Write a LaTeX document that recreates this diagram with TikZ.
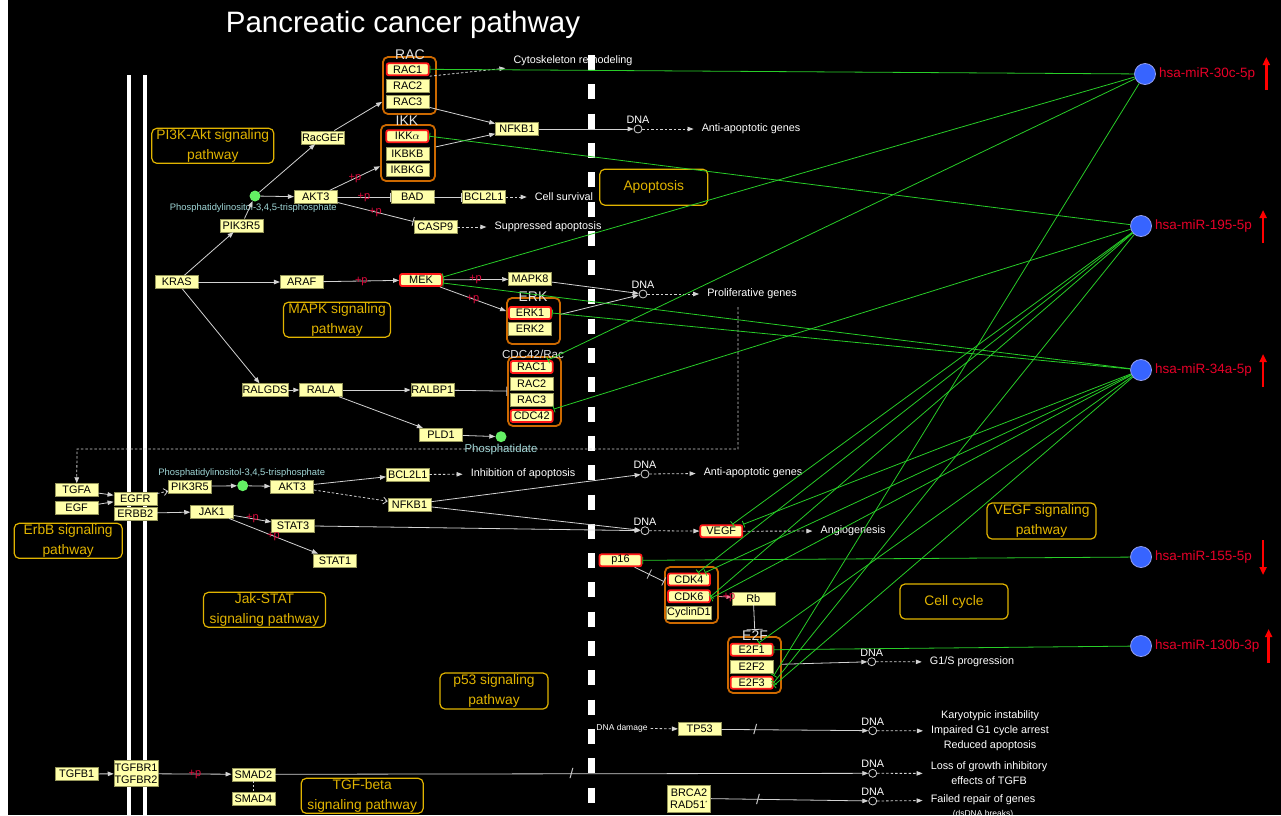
\documentclass[tikz,border=0pt]{standalone}
\usepackage{fontspec}
\setmainfont{Liberation Sans}
\usetikzlibrary{arrows.meta,positioning}

\definecolor{genefill}{RGB}{255,255,170}
\definecolor{geneline}{RGB}{150,150,90}
\definecolor{hitred}{RGB}{255,25,25}
\definecolor{cplxorange}{RGB}{205,105,0}
\definecolor{pwgold}{RGB}{225,180,0}
\definecolor{edgegray}{RGB}{210,210,210}
\definecolor{mirgreen}{RGB}{40,205,40}
\definecolor{cpdgreen}{RGB}{100,240,100}
\definecolor{cpdtext}{RGB}{160,215,215}
\definecolor{plusred}{RGB}{220,10,60}
\definecolor{mirblue}{RGB}{55,100,255}
\definecolor{mirring}{RGB}{150,160,240}
\definecolor{mirred}{RGB}{230,0,40}
\definecolor{cplxtext}{RGB}{225,225,225}

\newcommand{\genefont}{\fontsize{10.9}{11}\selectfont}
\newcommand{\notefont}{\fontsize{10.8}{15}\selectfont}
\newcommand{\pwfont}{\fontsize{13.8}{19.5}\selectfont}

\begin{document}
\begin{tikzpicture}[x=1pt, y=-1pt,
    gene/.style={draw=geneline, fill=genefill, line width=0.5pt, minimum width=43, minimum height=13, inner sep=0.5pt, font=\genefont},
    hit/.style={gene, draw=hitred, line width=1.8pt, rounded corners=2pt, minimum width=42, minimum height=12},
    cplx/.style={draw=cplxorange, line width=1.8pt, rounded corners=5pt, inner sep=0pt},
    cplxlab/.style={text=cplxtext, font=\fontsize{14}{14}\selectfont, inner sep=1pt},
    pw/.style={draw=pwgold, text=pwgold, line width=1.2pt, rounded corners=5pt, align=center, font=\pwfont, inner sep=0pt},
    note/.style={text=white, font=\notefont, inner sep=8pt, align=center},
    dna/.style={circle, draw=edgegray, fill=black, line width=0.8pt, minimum size=8, inner sep=0pt,
      label={[text=white, font=\notefont, inner sep=1pt]above:DNA}},
    cpd/.style={circle, fill=cpdgreen, minimum size=11, inner sep=0pt},
    cpdlab/.style={text=cpdtext, font=\fontsize{9.4}{10}\selectfont, inner sep=1pt},
    act/.style={draw=edgegray, line width=0.8pt, -{Triangle[length=6pt, width=4.5pt]}},
    inh/.style={draw=edgegray, line width=0.8pt, -{Bar[width=9pt, line width=0.8pt]}},
    ind/.style={act, dash pattern=on 2.5pt off 2pt},
    indopen/.style={draw=edgegray, line width=0.8pt, dash pattern=on 2.5pt off 2pt, -{Straight Barb[length=4pt, width=7pt]}},
    pact/.style={draw=plusred!55!white, line width=0.8pt, -{Triangle[length=5pt, width=4pt]}},
    plusp/.style={text=plusred, font=\fontsize{11}{10}\selectfont, inner sep=0pt},
    slashmark/.style={text=edgegray, font=\fontsize{14}{14}\selectfont, inner sep=0pt},
    mir/.style={circle, fill=mirblue, draw=mirring, line width=0.8pt, minimum size=21, inner sep=0pt},
    mirlab/.style={text=mirred, font=\fontsize{13.5}{14}\selectfont, inner sep=1pt},
    mline/.style={draw=mirgreen, line width=0.8pt, -{Bar[width=7pt, line width=0.8pt]}},
    regarrow/.style={draw=red, line width=2.4pt, -{Triangle[length=8pt, width=7pt]}}]

  \useasboundingbox (0,0) rectangle (1281,815);

  % Background
  \fill[white] (0,0) rectangle (1281,815);
  \fill[black] (8,0) rectangle (1281,815);

  % Cell membrane and nuclear border
  \draw[white, line width=4pt] (129,75) -- (129,815);
  \draw[white, line width=4pt] (145,75) -- (145,815);
  \draw[white, line width=7pt, dash pattern=on 15pt off 14.3pt] (591,55) -- (591,815);

  % Title
  \node[text=white, font=\fontsize{29.5}{30}\selectfont] (title) at (403,25) {Pancreatic cancer pathway};

  % Pathway boxes
  \node[pw, minimum width=122, minimum height=35] (pwpi3k) at (212.8,145.8) {PI3K-Akt signaling\\pathway};
  \node[pw, minimum width=107, minimum height=35] (pwmapk) at (337,319.7) {MAPK signaling\\pathway};
  \node[pw, minimum width=108, minimum height=36] (pwapop) at (653.8,187.2) {Apoptosis};
  \node[pw, minimum width=108, minimum height=35] (pwerbb) at (68.2,540.8) {ErbB signaling\\pathway};
  \node[pw, minimum width=122, minimum height=35] (pwjak) at (264.5,609.8) {Jak-STAT\\signaling pathway};
  \node[pw, minimum width=122, minimum height=35] (pwtgf) at (362.2,795.8) {TGF-beta\\signaling pathway};
  \node[pw, minimum width=109, minimum height=36] (pwvegf) at (1041.5,521) {VEGF signaling\\pathway};
  \node[pw, minimum width=108, minimum height=35] (pwcc) at (954,601.5) {Cell cycle};
  \node[pw, minimum width=108, minimum height=36] (pwp53) at (494,691) {p53 signaling\\pathway};

  % Complexes
  \node[cplx, minimum width=53, minimum height=57] (rac) at (409.5,85.5) {};
  \node[cplx, minimum width=54, minimum height=56] (ikk) at (408,153) {};
  \node[cplx, minimum width=53, minimum height=46] (erk) at (533.5,321) {};
  \node[cplx, minimum width=53, minimum height=69] (cdcx) at (534.5,391.5) {};
  \node[cplx, minimum width=53, minimum height=56] (cdkx) at (691.5,595) {};
  \node[cplx, minimum width=53, minimum height=56] (e2fx) at (754.5,665) {};
  \node[cplxlab] (raclab) at (410,55) {RAC};
  \node[cplxlab] (ikklab) at (407,121) {IKK};
  \node[cplxlab] (erklab) at (533,297) {ERK};
  \node[cplxlab, font=\fontsize{11.6}{12}\selectfont] (cdclab) at (533,354) {CDC42/Rac};
  \node[cplxlab] (e2flab) at (755,636) {E2F};

  % PI3K-Akt branch
  \node[hit] (rac1) at (407.7,69.3) {RAC1};
  \node[gene] (rac2) at (407.7,85.7) {RAC2};
  \node[gene] (rac3) at (407.7,102) {RAC3};
  \node[hit] (ikka) at (407.3,136.2) {IKK$\alpha$};
  \node[gene] (ikbkb) at (407.3,153.3) {IKBKB};
  \node[gene] (ikbkg) at (407.3,169.3) {IKBKG};
  \node[gene] (nfkb1a) at (517,129) {NFKB1};
  \node[gene] (racgef) at (323,137.3) {RacGEF};
  \node[cpd] (pip3a) at (255,196) {};
  \node[cpdlab] (pip3alab) at (253.3,208.3) {Phosphatidylinositol-3,4,5-trisphosphate};
  \node[gene] (pik3r5a) at (241.3,225.3) {PIK3R5};
  \node[gene] (akt3a) at (315.7,197) {AKT3};
  \node[gene] (bad) at (412.3,197) {BAD};
  \node[gene] (bcl2l1a) at (483.8,197) {BCL2L1};
  \node[gene] (casp9) at (435.3,227) {CASP9};
  \node[note] (cyto) at (573,61) {Cytoskeleton remodeling};
  \node[note] (survival) at (564,197) {Cell survival};
  \node[note] (suppr) at (548,227) {Suppressed apoptosis};
  \node[dna] (dnaA) at (638,129) {};
  \node[note] (antiA) at (751,129) {Anti-apoptotic genes};

  % MAPK branch
  \node[gene] (kras) at (176.7,282) {KRAS};
  \node[gene] (araf) at (301.7,282) {ARAF};
  \node[hit] (mek) at (421,280) {MEK};
  \node[gene] (mapk8) at (530,279.2) {MAPK8};
  \node[hit] (erk1) at (530,313) {ERK1};
  \node[gene] (erk2) at (530,328.8) {ERK2};
  \node[dna] (dnaB) at (643,294) {};
  \node[note] (prolif) at (752,294) {Proliferative genes};
  \node[gene] (ralgds) at (265,390) {RALGDS};
  \node[gene] (rala) at (321,390) {RALA};
  \node[gene] (ralbp1) at (432.3,390) {RALBP1};
  \node[hit] (rac1b) at (531.7,367) {RAC1};
  \node[gene] (rac2b) at (531.7,383.7) {RAC2};
  \node[gene] (rac3b) at (531.7,399.7) {RAC3};
  \node[hit] (cdc42) at (531.7,416) {CDC42};
  \node[gene] (pld1) at (441,434.7) {PLD1};
  \node[cpd] (pa) at (501,436.7) {};
  \node[cpdlab, font=\fontsize{11.4}{12}\selectfont] (palab) at (501,450) {Phosphatidate};
  \coordinate (fbturn) at (77,449);

  % ErbB and Jak-STAT branch
  \node[gene] (tgfa) at (76.7,490) {TGFA};
  \node[gene] (egf) at (76.7,507.7) {EGF};
  \node[gene] (egfr) at (135.3,498.3) {EGFR};
  \node[gene] (erbb2) at (135.3,513.3) {ERBB2};
  \node[gene] (pik3r5b) at (190,486.3) {PIK3R5};
  \node[cpd] (pip3b) at (242.7,485.7) {};
  \node[cpdlab] (pip3blab) at (241.7,473) {Phosphatidylinositol-3,4,5-trisphosphate};
  \node[gene] (akt3b) at (292.2,486.7) {AKT3};
  \node[gene] (jak1) at (212,511.7) {JAK1};
  \node[gene] (stat3) at (293,525.7) {STAT3};
  \node[gene] (stat1) at (335,560.3) {STAT1};
  \node[gene] (bcl2l1b) at (407.7,474.5) {BCL2L1};
  \node[gene] (nfkb1b) at (409.5,504.5) {NFKB1};
  \node[note] (inhib) at (523,474) {Inhibition of apoptosis};
  \node[dna] (dnaC) at (645,474) {};
  \node[note] (antiB) at (753,473) {Anti-apoptotic genes};
  \node[dna] (dnaD) at (645,530.7) {};
  \node[hit] (vegf) at (721.3,531.2) {VEGF};
  \node[note] (angio) at (853,531) {Angiogenesis};

  % Cell cycle
  \node[hit] (p16) at (620.5,560.3) {p16};
  \node[hit] (cdk4) at (689,579.5) {CDK4};
  \node[hit] (cdk6) at (689,596.3) {CDK6};
  \node[gene] (ccnd1) at (689,612.7) {CyclinD1};
  \node[gene] (rb) at (753.3,598.3) {Rb};
  \node[hit] (e2f1) at (751.7,649.7) {E2F1};
  \node[gene] (e2f2) at (751.7,666.3) {E2F2};
  \node[hit] (e2f3) at (751.7,682.7) {E2F3};
  \node[dna] (dnaE) at (871.7,661.7) {};
  \node[note] (g1s) at (972,662) {G1/S progression};

  % p53, TGF-beta and DNA repair
  \node[note, inner sep=3pt, font=\fontsize{8.5}{9}\selectfont] (dnadmg) at (622,728) {DNA damage};
  \node[gene] (tp53) at (699.7,729.2) {TP53};
  \node[dna] (dnaF) at (872.7,730.7) {};
  \node[note] (karyo) at (990,731) {Karyotypic instability\\Impaired G1 cycle arrest\\Reduced apoptosis};
  \node[gene] (tgfb1) at (76.7,774) {TGFB1};
  \node[gene, align=center, minimum height=26, font=\fontsize{10.9}{12}\selectfont] (tgfbr) at (136,773.7) {TGFBR1\\TGFBR2};
  \node[gene] (smad2) at (253.3,774.3) {SMAD2};
  \node[gene] (smad4) at (253.3,798.3) {SMAD4};
  \node[dna] (dnaG) at (872.7,773.3) {};
  \node[note] (loss) at (989,773.5) {Loss of growth inhibitory\\effects of TGFB};
  \node[gene, align=center, minimum height=27, font=\fontsize{10.9}{12}\selectfont] (brca) at (689,798.3) {BRCA2\\RAD51\textsuperscript{\tiny *}};
  \node[dna] (dnaH) at (872.7,801) {};
  \node[note] (failed) at (983,800) {Failed repair of genes};
  \node[note, font=\fontsize{8.5}{9}\selectfont, below=-11pt of failed] (dsdna) {(dsDNA breaks)};

  % Connectors: PI3K-Akt
  \draw[act] (kras) -- (pik3r5a);
  \draw[act] (pik3r5a) -- (pip3a);
  \draw[act] (pip3a) -- (racgef);
  \draw[act] (pip3a) -- (akt3a);
  \draw[act] (racgef) -- (rac);
  \draw[act] (rac3) -- (nfkb1a);
  \draw[act] (ikk) -- (nfkb1a);
  \draw[ind] (rac1.south east) -- (cyto);
  \draw[act] (akt3a) -- node[plusp]{+p} (ikk);
  \draw[inh] (akt3a) -- node[plusp]{+p} (bad);
  \draw[inh] (akt3a) -- node[plusp]{+p} (casp9);
  \draw[inh] (bad) -- (bcl2l1a);
  \draw[ind] (bcl2l1a) -- (survival);
  \draw[ind] (casp9) -- (suppr);
  \draw[act] (nfkb1a) -- (dnaA);
  \draw[ind] (dnaA) -- (antiA);

  % Connectors: MAPK
  \draw[act] (kras) -- (araf);
  \draw[act] (araf) -- node[plusp]{+p} (mek);
  \draw[act] (mek) -- node[plusp]{+p} (mapk8);
  \draw[act] (mek) -- node[plusp]{+p} (erk);
  \draw[act] (mapk8) -- (dnaB);
  \draw[act] (erk) -- (dnaB);
  \draw[ind] (dnaB) -- (prolif);
  \draw[ind] ([xshift=-14pt]prolif.south) |- (fbturn) -- (tgfa);
  \draw[act] (kras) -- (ralgds);
  \draw[act] (ralgds) -- (rala);
  \draw[act] (rala) -- (ralbp1);
  \draw[inh] (ralbp1) -- (cdcx);
  \draw[act] (rala) -- (pld1);
  \draw[act] (pld1) -- (pa);

  % Connectors: ErbB and Jak-STAT
  \draw[act] (tgfa) -- (egfr);
  \draw[act] (egf) -- (egfr);
  \draw[indopen] (egfr) -- (pik3r5b);
  \draw[act] (erbb2) -- (jak1);
  \draw[act] (pik3r5b) -- (pip3b);
  \draw[act] (pip3b) -- (akt3b);
  \draw[act] (akt3b) -- (bcl2l1b);
  \draw[indopen] (akt3b) -- (nfkb1b);
  \draw[ind] (bcl2l1b) -- (inhib);
  \draw[act] (nfkb1b) -- (dnaC);
  \draw[act] (nfkb1b) -- (dnaD);
  \draw[ind] (dnaC) -- (antiB);
  \draw[act] (jak1) -- node[plusp]{+p} (stat3);
  \draw[act] (jak1) -- node[plusp]{+p} (stat1);
  \draw[act] (stat3) -- (dnaD);
  \draw[ind] (dnaD) -- (vegf);
  \draw[ind] (vegf) -- (angio);

  % Connectors: cell cycle
  \draw[inh] (p16) -- node[sloped, slashmark, font=\fontsize{11}{11}\selectfont]{|} (cdkx);
  \draw[pact] (cdkx) -- node[plusp, pos=0.8]{+p} (rb);
  \draw[draw=edgegray, line width=0.8pt, -{Bar[width=16pt, line width=0.8pt]}] (rb) -- (e2flab);
  \draw[act] (e2fx) -- (dnaE);
  \draw[ind] (dnaE) -- (g1s);

  % Connectors: p53, TGF-beta, repair
  \draw[ind] (dnadmg) -- (tp53);
  \draw[act] (tp53) -- node[slashmark, pos=0.23]{/} (dnaF);
  \draw[ind] (dnaF) -- (karyo);
  \draw[act] (tgfb1) -- (tgfbr);
  \draw[act] (tgfbr) -- node[plusp]{+p} (smad2);
  \draw[draw=edgegray, line width=0.8pt, dash pattern=on 2pt off 2pt] (smad2) -- (smad4);
  \draw[act] (smad2) -- node[slashmark, pos=0.5]{/} (dnaG);
  \draw[ind] (dnaG) -- (loss);
  \draw[act] (brca) -- node[slashmark, pos=0.3]{/} (dnaH);
  \draw[ind] (dnaH) -- (failed);

  % miRNAs
  \node[mir] (m30c) at (1145,74) {};
  \node[mir] (m195) at (1141,226) {};
  \node[mir] (m34a) at (1141,370) {};
  \node[mir] (m155) at (1141,557) {};
  \node[mir] (m130b) at (1141,646) {};
  \node[mirlab, right=2pt of m30c] (l30c) {hsa-miR-30c-5p};
  \node[mirlab, right=2pt of m195] (l195) {hsa-miR-195-5p};
  \node[mirlab, right=2pt of m34a] (l34a) {hsa-miR-34a-5p};
  \node[mirlab, right=2pt of m155] (l155) {hsa-miR-155-5p};
  \node[mirlab, right=2pt of m130b] (l130b) {hsa-miR-130b-3p};
  \draw[regarrow] ([xshift=10pt, yshift=-16pt]l30c.east) -- ([xshift=10pt, yshift=17pt]l30c.east);
  \draw[regarrow] ([xshift=10pt, yshift=-17pt]l195.east) -- ([xshift=10pt, yshift=16pt]l195.east);
  \draw[regarrow] ([xshift=10pt, yshift=-17pt]l34a.east) -- ([xshift=10pt, yshift=16pt]l34a.east);
  \draw[regarrow] ([xshift=10pt, yshift=17pt]l155.east) -- ([xshift=10pt, yshift=-18pt]l155.east);
  \draw[regarrow] ([xshift=8pt, yshift=-17pt]l130b.east) -- ([xshift=8pt, yshift=17pt]l130b.east);

  % miRNA targets
  \draw[mline] (m30c) -- (rac1.east);
  \draw[mline] (m30c) -- ([yshift=3pt]mek.east);
  \draw[mline] (m30c) -- ([xshift=16pt]rac1b.north);
  \draw[mline] (m30c) -- (e2f3.north east);
  \draw[mline] (m195) -- (ikka.east);
  \draw[mline] (m195) -- (cdc42.north east);
  \draw[mline] (m195) -- ([xshift=11pt]vegf.north);
  \draw[mline] (m195) -- ([xshift=9pt]cdk4.north);
  \draw[mline] (m195) -- (cdk6.east);
  \draw[mline] (m195) -- (e2f3.east);
  \draw[mline] (m34a) -- ([yshift=-3pt]mek.east);
  \draw[mline] (m34a) -- (erk1.east);
  \draw[mline] (m34a) -- (vegf.north east);
  \draw[mline] (m34a) -- ([xshift=16pt]cdk4.north);
  \draw[mline] (m34a) -- ([yshift=-2pt]cdk6.east);
  \draw[mline] (m34a) -- ([xshift=7pt]e2f1.north);
  \draw[mline] (m34a) -- ([yshift=-3pt]e2f3.east);
  \draw[mline] (m155) -- (p16.east);
  \draw[mline] (m130b) -- (e2f1.east);
\end{tikzpicture}
\end{document}
